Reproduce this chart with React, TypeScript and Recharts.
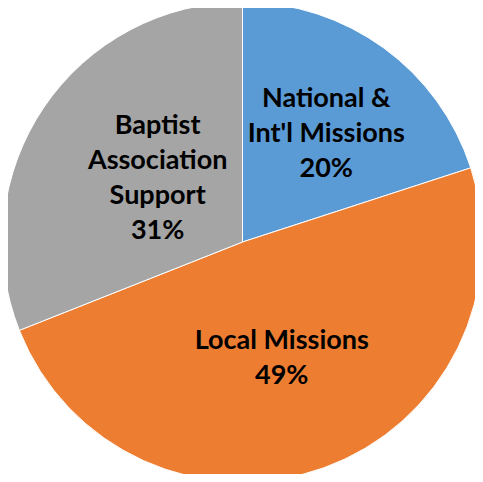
import React from "react";
import { PieChart, Pie, Cell } from "recharts";

const categories = ["National &\nInt'l Missions", "Local Missions", "Baptist\nAssociation\nSupport"];
const shares = [20, 49, 31];
const colors = ["#5B9BD5", "#ED7D31", "#A5A5A5"];

const data = categories.map((name, i) => ({ name, value: shares[i] }));

// Excel "best fit" puts each label a bit differently from the centre
const labelRadius = [0.58, 0.5, 0.45];
const labelAngleShift = [-1, -0.7, -4];

const RADIAN = Math.PI / 180;

const renderLabel = (props: any) => {
  const { cx, cy, midAngle, outerRadius, index, name, value } = props;
  const r = outerRadius * labelRadius[index];
  const a = midAngle + labelAngleShift[index];
  const x = cx + r * Math.cos(-a * RADIAN);
  const y = cy + r * Math.sin(-a * RADIAN);
  const lines = [...String(name).split("\n"), `${value}%`];
  const lineHeight = 35;
  const startY = y - ((lines.length - 1) * lineHeight) / 2;
  return (
    <text
      x={x}
      y={startY}
      textAnchor="middle"
      dominantBaseline="central"
      fill="#000"
      fontFamily="Lato, sans-serif"
      fontWeight="bold"
      fontSize={27}
    >
      {lines.map((line, i) => (
        <tspan key={i} x={x} y={startY + i * lineHeight}>
          {line}
        </tspan>
      ))}
    </text>
  );
};

const App: React.FC = () => {
  return (
    <div style={{ margin: -8, width: 483, height: 482, background: "#fff" }}>
      <PieChart width={483} height={482} margin={{ top: 0, right: 0, bottom: 0, left: 0 }}>
        <Pie
          data={data}
          dataKey="value"
          nameKey="name"
          cx={242.5}
          cy={242}
          outerRadius={240}
          startAngle={90}
          endAngle={-270}
          stroke="#fff"
          strokeWidth={1}
          label={renderLabel}
          labelLine={false}
          isAnimationActive={false}
        >
          {data.map((entry, i) => (
            <Cell key={entry.name} fill={colors[i]} />
          ))}
        </Pie>
      </PieChart>
    </div>
  );
};

export default App;
